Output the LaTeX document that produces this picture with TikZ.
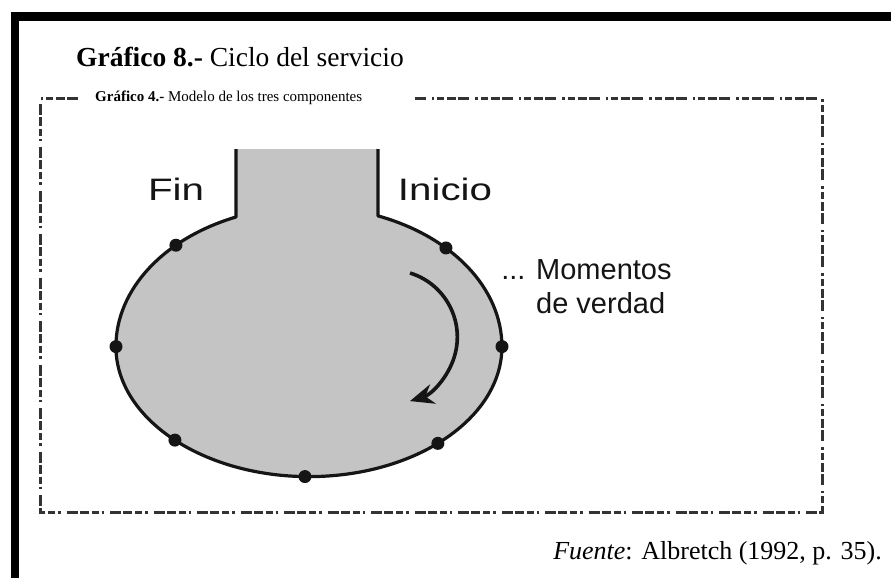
\documentclass[tikz,border=0pt]{standalone}
\usepackage{fontspec}
\setmainfont{Liberation Serif}
\newfontfamily\lblfont{Liberation Sans}
\usetikzlibrary{calc,arrows.meta}
\definecolor{shapegray}{HTML}{C4C4C4}
\definecolor{inkdark}{HTML}{151515}
\definecolor{framegray}{HTML}{333333}
\begin{document}
\begin{tikzpicture}[x=1pt,y=-1pt,
  outline/.style={draw=inkdark,line width=3.2pt,line join=round},
  dotnode/.style={circle,fill=inkdark,inner sep=0pt,minimum size=13pt},
  framedash/.style={draw=framegray,line width=3pt,
    dash pattern=on 11pt off 2pt on 9pt off 3pt on 7pt off 3pt on 2.5pt off 6pt},
  sanslabel/.style={font=\lblfont\fontsize{29}{34}\selectfont,inner sep=0pt,text=inkdark},
  widelabel/.style={font=\lblfont\fontsize{31}{36}\selectfont,inner sep=0pt,text=inkdark,xscale=1.3,transform shape},
  flowarrow/.style={draw=inkdark,line width=3.6pt,-{Stealth[length=24pt,width=20pt]}}]
\useasboundingbox (0,0) rectangle (891,578);
\fill[white] (0,0) rectangle (891,578);
% black page border (left and top)
\fill[black] (11,12) rectangle (19,578);
\fill[black] (11,12) rectangle (891,21);
% titles
\node[inner sep=0pt] (title) at (240,57) {\fontsize{27.5}{32}\selectfont\textbf{Gráfico 8.-} Ciclo del servicio};
\node[inner sep=0pt,anchor=west] (subtitle) at (95,98) {\fontsize{15}{18}\selectfont\textbf{Gráfico 4.-} Modelo de los tres componentes};
% dashed frame
\coordinate (ftl) at (40,98);
\coordinate (ftr) at (822,98);
\coordinate (fbl) at (40,512);
\coordinate (fbr) at (822,512);
\coordinate (fgapL) at (78,98);
\coordinate (fgapR) at (415,98);
\draw[framedash] (fgapL) -- (ftl) -- (fbl) -- (fbr) -- (ftr) -- (fgapR);
% shape
\coordinate (C) at (309,346.6);
\path[fill=shapegray] (236,149) -- (236,217)
  arc[start angle=247.8,end angle=180,x radius=193,y radius=140]
  arc[start angle=180,end angle=0,x radius=193,y radius=130]
  arc[start angle=0,end angle=-69.05,x radius=193,y radius=140]
  -- (378,149) -- cycle;
\draw[outline] (236,149) -- (236,217)
  arc[start angle=247.8,end angle=180,x radius=193,y radius=140]
  arc[start angle=180,end angle=0,x radius=193,y radius=130]
  arc[start angle=0,end angle=-69.05,x radius=193,y radius=140]
  -- (378,149);
% moments of truth
\node[dotnode] (d1) at ($(C)+(226.4:193 and 140)$) {};
\node[dotnode] (d2) at ($(C)+(315.2:193 and 140)$) {};
\node[dotnode] (d3) at ($(C)+(180:193 and 140)$) {};
\node[dotnode] (d4) at ($(C)+(0:193 and 140)$) {};
\node[dotnode] (d5) at ($(C)+(134:193 and 130)$) {};
\node[dotnode] (d6) at ($(C)+(48.1:193 and 130)$) {};
\node[dotnode] (d7) at ($(C)+(91.2:193 and 130)$) {};
% flow arrow
\coordinate (astart) at (410,273);
\draw[flowarrow] (astart) arc[start angle=-72.9,end angle=73,radius=67];
% labels
\node[widelabel] (fin) at (176,189) {Fin};
\node[widelabel] (inicio) at (445,189) {Inicio};
\node[sanslabel,anchor=north west,align=left] (momentos) at (536,259) {\llap{... }Momentos\\de verdad};
% source
\node[inner sep=0pt,anchor=east] (fuente) at (882,553) {\fontsize{26}{30}\selectfont\textit{Fuente}: Albretch (1992, p. 35).};
\end{tikzpicture}
\end{document}
